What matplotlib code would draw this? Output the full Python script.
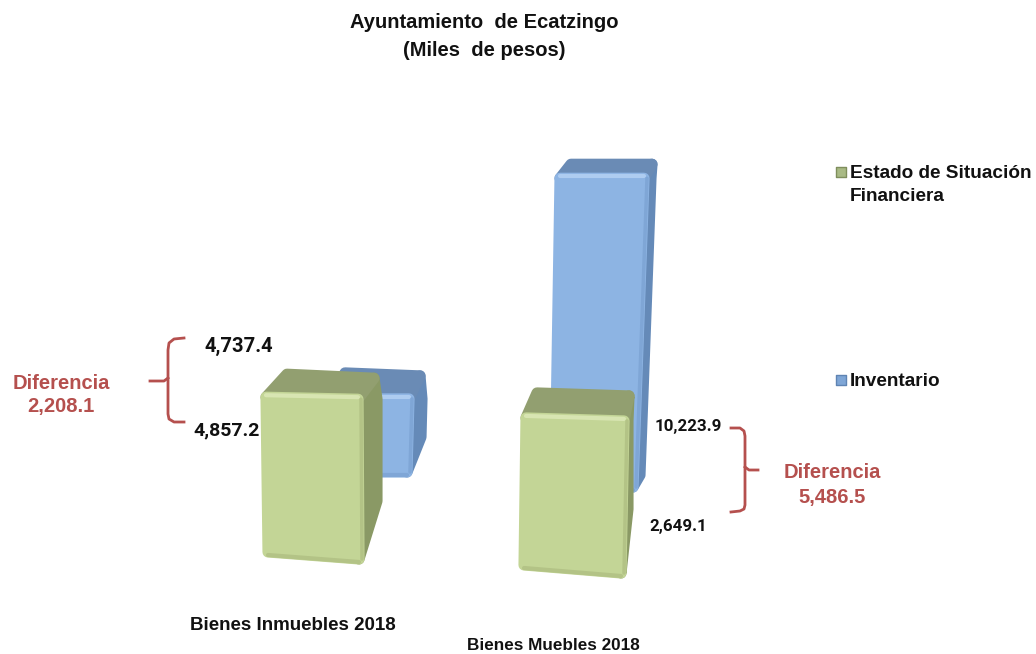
import matplotlib
matplotlib.use('Agg')
import matplotlib.pyplot as plt
from matplotlib.patches import Polygon

# data, as printed on the chart
categories = ['Bienes Inmuebles 2018', 'Bienes Muebles 2018']
series_names = ['Estado de Situación\nFinanciera', 'Inventario']
estado_values = [4857.2, 4737.4]
inventario_values = [2649.1, 10223.9]
diferencias = [2208.1, 5486.5]

plt.rcParams['font.family'] = ['Liberation Sans', 'DejaVu Sans']

fig = plt.figure(figsize=(10.36, 6.54), dpi=100)
ax = fig.add_axes([0, 0, 1, 1])
ax.set_xlim(0, 1036)
ax.set_ylim(654, 0)
ax.axis('off')

GREEN = {'front': '#C3D596', 'top': '#929F70', 'side': '#8A9965', 'hi': '#D8E5B2', 'lo': '#B3C386'}
BLUE = {'front': '#8DB4E3', 'top': '#6A8BB5', 'side': '#658AB8', 'hi': '#AECCF0', 'lo': '#7FA6D6'}
RED = '#B5504E'


def face(pts, color, z):
    ax.add_patch(Polygon(pts, closed=True, facecolor=color, edgecolor=color, lw=8,
                         joinstyle='round', zorder=z))


def draw_box(value, k, base, tilt, xl, xr, top_tilt, back_l, back_r, side, col, z):
    # k = pixels per thousand pesos, the perspective makes it differ per bar
    top = base - value * k
    tl = (xl[0], top - top_tilt)
    tr = (xr[0], top)
    br = (xr[1], base)
    bl = (xl[1], base - tilt)
    bk_l = (tl[0] + back_l[0], tl[1] + back_l[1])
    bk_r = (tr[0] + back_r[0], tr[1] + back_r[1])
    side_low = (bk_r[0] + side[0], top + side[1])
    side_mid = (bk_r[0] + side[2], base + side[3])
    face([tr, bk_r, side_low, side_mid, br], col['side'], z)
    face([tl, bk_l, bk_r, tr], col['top'], z + 0.1)
    face([tl, tr, br, bl], col['front'], z + 0.2)
    ax.plot([tl[0], tr[0]], [tl[1] - 2, tr[1] - 2], color=col['hi'], lw=3, zorder=z + 0.3,
            solid_capstyle='round')
    ax.plot([bl[0], br[0]], [bl[1] + 3, br[1] + 3], color=col['lo'], lw=3, zorder=z + 0.3,
            solid_capstyle='round')
    ax.plot([tr[0] + 3, br[0] + 3], [tr[1], br[1]], color=col['lo'], lw=2.5, zorder=z + 0.3,
            solid_capstyle='round')


# back row first
draw_box(inventario_values[0], 0.0276, 472, 0, (331, 331), (409, 407), 0, (14, -26), (11, -23),
         (2, 0, 1, -35), BLUE, 1)
draw_box(inventario_values[1], 0.0302, 487, 0, (560, 555), (644, 633), 0, (11, -14), (8, -14),
         (-1, 0, -12, -12), BLUE, 2)
draw_box(estado_values[0], 0.0329, 559, 7, (266, 268), (358, 359), 2, (21, -23), (16, -21),
         (3, 0, 3, -58), GREEN, 3)
draw_box(estado_values[1], 0.0321, 573, 8, (526, 524), (624, 621), 3, (11, -25), (5, -25),
         (-1, 0, -1, -64), GREEN, 4)

# text
title_style = dict(ha='center', va='center', fontsize=14.5, fontweight='bold', color='#111111')
ax.text(484, 22, 'Ayuntamiento  de Ecatzingo', **title_style)
ax.text(484, 50, '(Miles  de pesos)', **title_style)

ax.text(293, 626, categories[0], ha='center', va='center', fontsize=13.5, fontweight='bold', color='#111111')
ax.text(553, 646, categories[1], ha='center', va='center', fontsize=12.3, fontweight='bold', color='#111111')

label_style = dict(ha='center', va='center', fontweight='bold', color='#111111', family='Roboto')
ax.text(239, 346, f'{estado_values[1]:,.1f}', fontsize=14.5, **label_style)
ax.text(227, 430, f'{estado_values[0]:,.1f}', fontsize=14, **label_style)
ax.text(688, 427, f'{inventario_values[1]:,.1f}', fontsize=12.2, **label_style)
ax.text(678, 527, f'{inventario_values[0]:,.1f}', fontsize=12.2, **label_style)

diff_style = dict(ha='center', va='center', fontsize=14.5, fontweight='bold', color=RED)
ax.text(61, 395, f'Diferencia\n{diferencias[0]:,.1f}', linespacing=1.25, **diff_style)
ax.text(832, 485, f'Diferencia\n{diferencias[1]:,.1f}', linespacing=1.4, **diff_style)

# brackets
ax.plot([184, 174, 169, 168, 168, 169, 174, 184], [338, 339, 343, 350, 414, 419, 422, 422], color=RED, lw=2)
ax.plot([150, 164, 168], [381, 381, 378], color=RED, lw=2)
ax.plot([731, 740, 744, 745, 745, 744, 740, 731], [428, 428, 431, 436, 505, 509, 511, 512], color=RED, lw=2)
ax.plot([745, 749, 758], [467, 470, 470], color=RED, lw=2)

# legend
ax.scatter([841], [172], marker='s', s=42, facecolor='#A9BA85', edgecolor='#7F8E5C', lw=1)
ax.scatter([841], [380], marker='s', s=42, facecolor='#7FA6D6', edgecolor='#5F84B3', lw=1)
ax.text(850, 185, series_names[0], ha='left', va='center', fontsize=13.7, fontweight='bold', color='#111111', linespacing=1.5)
ax.text(850, 381, series_names[1], ha='left', va='center', fontsize=13.7, fontweight='bold', color='#111111')

fig.savefig('out.png', dpi=100)
